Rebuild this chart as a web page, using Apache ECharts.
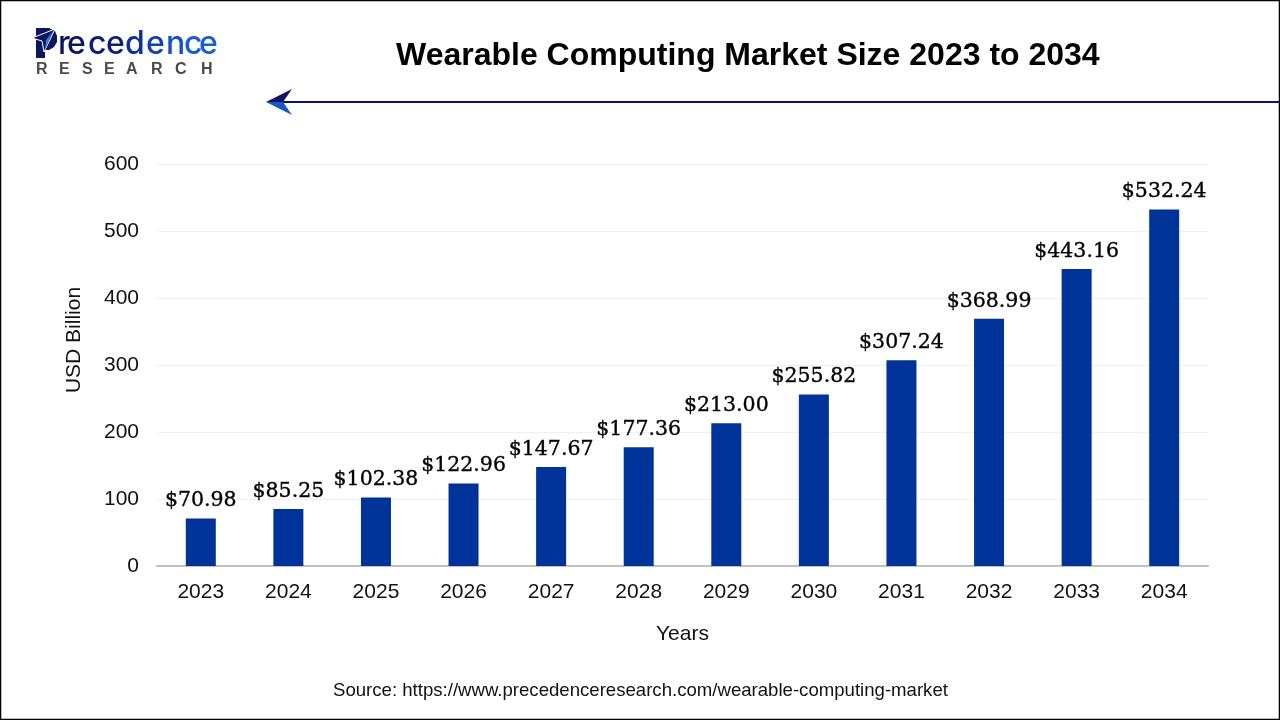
<!DOCTYPE html>
<html>
<head>
<meta charset="utf-8">
<title>Wearable Computing Market Size 2023 to 2034</title>
<script src="https://cdn.jsdelivr.net/npm/echarts@6/dist/echarts.min.js"></script>
<style>
html, body { margin: 0; padding: 0; background: #fff; }
#chart { width: 1280px; height: 720px; }
</style>
</head>
<body>
<div id="chart"></div>
<script>
var years = ['2023', '2024', '2025', '2026', '2027', '2028', '2029', '2030', '2031', '2032', '2033', '2034'];
var marketSize = [70.98, 85.25, 102.38, 122.96, 147.67, 177.36, 213.00, 255.82, 307.24, 368.99, 443.16, 532.24];
var yTicks = [0, 100, 200, 300, 400, 500, 600];

var chart = echarts.init(document.getElementById('chart'));

var sans = '"Liberation Sans", Arial, sans-serif';

// logo + header arrow + frame are plain decoration
var logoLetters = [
    {t: 'r', x: 58, c: '#0b1560'}, {t: 'e', x: 67, c: '#0b1560'}, {t: 'c', x: 88, c: '#0c1f78'},
    {t: 'e', x: 106, c: '#0c1f78'}, {t: 'd', x: 125, c: '#10309a'}, {t: 'e', x: 146, c: '#1340b0'},
    {t: 'n', x: 166, c: '#1650c8'}, {t: 'c', x: 184, c: '#1a5cd8'}, {t: 'e', x: 199, c: '#1a5cd8'}
];
var logo = logoLetters.map(function (l) {
    return {
        type: 'text', left: l.x, top: 28,
        style: {text: l.t, fill: l.c, font: '500 32px "Inter", sans-serif'}
    };
});
var researchLetters = [
    {t: 'R', x: 36}, {t: 'E', x: 59}, {t: 'S', x: 82}, {t: 'E', x: 104},
    {t: 'A', x: 126}, {t: 'R', x: 151}, {t: 'C', x: 175}, {t: 'H', x: 201}
];
var research = researchLetters.map(function (l) {
    return {
        type: 'text', left: l.x, top: 62,
        style: {text: l.t, fill: '#4a4a4a', font: 'bold 16px "Liberation Sans", sans-serif'}
    };
});

var option = {
    animation: false,
    backgroundColor: '#ffffff',
    title: {
        text: 'Wearable Computing Market Size 2023 to 2034',
        left: 391,
        top: 35,
        textStyle: {fontFamily: sans, fontSize: 32, fontWeight: 'bold', color: '#000'}
    },
    grid: {left: 157, right: 72, top: 164, bottom: 154},
    xAxis: {
        type: 'category',
        data: years,
        name: 'Years',
        nameLocation: 'middle',
        nameGap: 58,
        nameTextStyle: {fontFamily: sans, fontSize: 21, color: '#111'},
        axisTick: {show: false},
        axisLine: {lineStyle: {color: '#c0c0c0', width: 2}},
        axisLabel: {fontFamily: sans, fontSize: 21, color: '#111', margin: 16}
    },
    yAxis: {
        type: 'value',
        min: 0,
        max: 600,
        interval: 100,
        axisLine: {show: false},
        axisTick: {show: false},
        axisLabel: {
            fontFamily: sans, fontSize: 21, color: '#111', margin: 18,
            formatter: function (v) { return yTicks.indexOf(v) >= 0 ? String(v) : ''; }
        },
        splitLine: {lineStyle: {color: '#f0f0f0', width: 1}}
    },
    series: [{
        type: 'bar',
        data: marketSize,
        barWidth: 30,
        itemStyle: {color: '#003399'},
        label: {
            show: true,
            position: 'top',
            distance: 7,
            fontFamily: '"DejaVu Serif", serif',
            fontSize: 20.5,
            color: '#000',
            textBorderColor: '#000',
            textBorderWidth: 0.35,
            formatter: function (p) { return '$' + p.value.toFixed(2); }
        }
    }],
    graphic: logo.concat(research, [
        {type: 'rect', shape: {x: 0.5, y: 0.5, width: 1279, height: 719}, style: {fill: 'none', stroke: '#000', lineWidth: 1.5}, z: 10},
        // logo P with the dart cut out
        {type: 'polygon', shape: {points: [[36, 28], [49, 28], [55, 31], [57, 36], [57, 42], [54, 47], [49, 50], [45, 50], [45, 58], [36, 58]]}, style: {fill: '#0b1560'}},
        {type: 'polygon', shape: {points: [[32, 38], [55, 29], [44, 52], [42, 41]]}, style: {fill: '#0b1560', stroke: '#fff', lineWidth: 1}},
        {type: 'polygon', shape: {points: [[53, 31], [46, 40], [45, 50]]}, style: {fill: '#2f7be0'}},
        // header arrow
        {type: 'line', shape: {x1: 278, y1: 102, x2: 1280, y2: 102}, style: {stroke: '#0b1560', lineWidth: 2}},
        {type: 'polygon', shape: {points: [[266, 102], [292, 89], [283, 102]]}, style: {fill: '#0b1560'}},
        {type: 'polygon', shape: {points: [[266, 102], [292, 115], [283, 102]]}, style: {fill: '#1a55cc'}},
        {
            type: 'text', x: 74, y: 340, rotation: Math.PI / 2,
            style: {text: 'USD Billion', fill: '#111', align: 'center', verticalAlign: 'middle', font: '21px "Liberation Sans", sans-serif'}
        },
        {
            type: 'text', left: 333, top: 681,
            style: {text: 'Source: https://www.precedenceresearch.com/wearable-computing-market', fill: '#111', font: '18.6px "Liberation Sans", sans-serif'}
        }
    ])
};

chart.setOption(option);
</script>
</body>
</html>
